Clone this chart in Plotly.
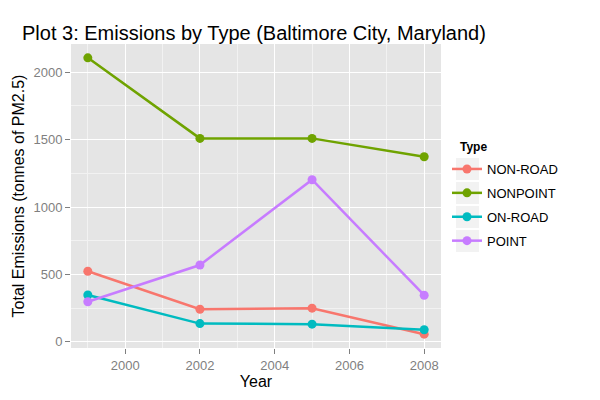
import plotly.graph_objects as go

years = [1999, 2002, 2005, 2008]
types = ["NON-ROAD", "NONPOINT", "ON-ROAD", "POINT"]
non_road = [522.9, 240.8, 248.9, 55.8]
nonpoint = [2107.6, 1509.5, 1509.5, 1373.2]
on_road = [346.8, 134.3, 130.4, 88.3]
point = [296.8, 569.3, 1202.5, 345.0]
series = [non_road, nonpoint, on_road, point]
colors = ["#F8766D", "#6FA300", "#00BBC0", "#C77CFF"]

x_ticks = [2000, 2002, 2004, 2006, 2008]
y_ticks = [0, 500, 1000, 1500, 2000]

FONT = "Liberation Sans, Arial, sans-serif"

fig = go.Figure()
for name, vals, col in zip(types, series, colors):
    fig.add_trace(go.Scatter(
        x=years, y=vals, name=name, mode="lines+markers",
        line=dict(color=col, width=2.5),
        marker=dict(color=col, size=9),
        legendgroup=name,
    ))

# legend key backgrounds (ggplot style)
for i in range(len(types)):
    cy = 169 + 24 * i
    fig.add_shape(type="rect", xref="paper", yref="paper",
                  x0=(456 - 71) / 370, x1=(479 - 71) / 370,
                  y0=(348 - (cy + 11)) / 304, y1=(348 - (cy - 11)) / 304,
                  fillcolor="#F2F2F2", line=dict(width=0), layer="below")

fig.add_annotation(text="<b>Type</b>", xref="paper", yref="paper",
                   x=(458 - 71) / 370, xanchor="left",
                   y=(348 - 147) / 304, yanchor="middle",
                   showarrow=False, font=dict(size=12, color="black"))

fig.update_layout(
    width=600, height=400,
    margin=dict(l=71, r=159, t=44, b=52),
    paper_bgcolor="white",
    plot_bgcolor="#E5E5E5",
    font=dict(family=FONT, color="black"),
    title=dict(text="Plot 3: Emissions by Type (Baltimore City, Maryland)",
               x=22/600, xanchor="left", xref="container",
               y=1-33/400, yanchor="middle", yref="container",
               font=dict(size=20, color="black")),
    xaxis=dict(range=[1998.55, 2008.45], tickvals=x_ticks,
               ticktext=[str(v) for v in x_ticks],
               showgrid=True, gridcolor="white", gridwidth=1.2,
               zeroline=False, showline=False,
               ticks="outside", ticklen=5, tickcolor="#7F7F7F",
               tickfont=dict(size=13, color="#7F7F7F"),
               title=dict(text="Year", font=dict(size=16), standoff=2),
               minor=dict(tickvals=[1999, 2001, 2003, 2005, 2007],
                          showgrid=True, gridcolor="#F2F2F2", gridwidth=0.6)),
    yaxis=dict(range=[-46.8, 2210.2], tickvals=y_ticks,
               ticktext=[str(v) for v in y_ticks],
               showgrid=True, gridcolor="white", gridwidth=1.2,
               zeroline=False, showline=False,
               ticks="outside", ticklen=5, tickcolor="#7F7F7F",
               tickfont=dict(size=13, color="#7F7F7F"),
               title=dict(text="Total Emissions (tonnes of PM2.5)", font=dict(size=16), standoff=4),
               minor=dict(tickvals=[250, 750, 1250, 1750],
                          showgrid=True, gridcolor="#F2F2F2", gridwidth=0.6)),
    legend=dict(x=(447 - 71) / 370, xanchor="left", y=(348 - 154) / 304, yanchor="top",
                bgcolor="rgba(0,0,0,0)",
                font=dict(size=13), tracegroupgap=4, itemwidth=30),
)

fig.write_html("out.html")
